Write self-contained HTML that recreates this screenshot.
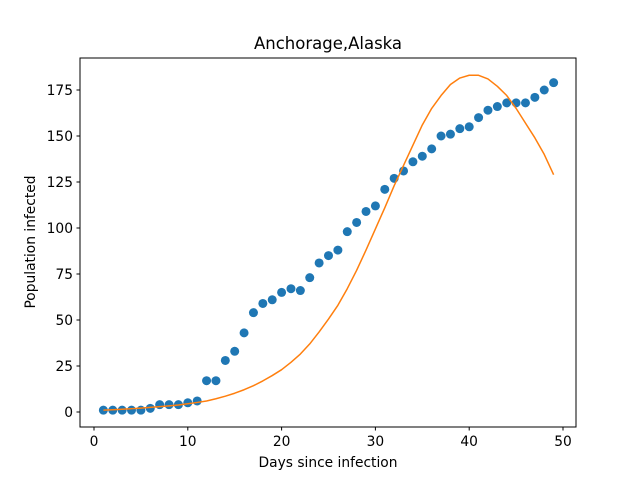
<!DOCTYPE html>
<html><head><meta charset="utf-8"><style>
body{margin:0;background:#fff;font-family:"Liberation Sans","DejaVu Sans",sans-serif}
svg text{font-family:"DejaVu Sans","Liberation Sans",sans-serif}
</style></head><body>
<svg id="chart" width="640" height="480">
<rect x="0" y="0" width="640" height="480" fill="#fff"/>
<g id="plot"></g>
<rect x="80" y="58" width="496" height="369" fill="none" stroke="#000" stroke-width="1"/>
<text x="328" y="49" text-anchor="middle" font-size="16.5">Anchorage,Alaska</text>
<text x="328" y="467" text-anchor="middle" font-size="13.8">Days since infection</text>
<text transform="translate(35,242) rotate(-90)" text-anchor="middle" font-size="13.8">Population infected</text>
</svg>
<script>
const days=[1,2,3,4,5,6,7,8,9,10,11,12,13,14,15,16,17,18,19,20,21,22,23,24,25,26,27,28,29,30,31,32,33,34,35,36,37,38,39,40,41,42,43,44,45,46,47,48,49];
const infected=[1,1,1,1,1,2,4,4,4,5,6,17,17,28,33,43,54,59,61,65,67,66,73,81,85,88,98,103,109,112,121,127,131,136,139,143,150,151,154,155,160,164,166,168,168,168,171,175,179];
const fitted=[1,1.2,1.5,1.8,2.1,2.5,2.9,3.3,3.8,4.5,5.2,6,7.2,8.6,10.2,12.1,14.3,16.9,19.8,23,27,31.5,37,43.5,50.5,58,67,77,88,99.5,111,123,134,145,156,165,172,178,181.5,183,183,181,177,172,165,157,149,140,129];
const xTicks=[0,10,20,30,40,50];
const yTicks=[0,25,50,75,100,125,150,175];
const NS="http://www.w3.org/2000/svg";
const X=v=>94+v*9.38, Y=v=>412-v*1.84;
const g=document.getElementById('plot');
function mk(t,a){const e=document.createElementNS(NS,t);for(const k in a)e.setAttribute(k,a[k]);g.appendChild(e);return e;}
xTicks.forEach(t=>{
 const l=mk('line',{x1:X(t),x2:X(t),y1:427,y2:430.5,stroke:'#000'});
 
 
 const tx=mk('text',{x:X(t),y:446,'text-anchor':'middle','font-size':13.8});tx.textContent=t;
 
 
});
yTicks.forEach(t=>{
 const l=mk('line',{x1:76.5,x2:80,y1:Y(t),y2:Y(t),stroke:'#000'});
 
 
 const tx=mk('text',{x:73,y:Y(t)+5,'text-anchor':'end','font-size':13.8});tx.textContent=t;
 
 
});
days.forEach((d,i)=>{
 const c=mk('circle',{cx:X(d),cy:Y(infected[i]),r:4.5,fill:'#1f77b4'});
 
 
});
const p=mk('polyline',{points:days.map((d,i)=>X(d)+','+Y(fitted[i])).join(' '),fill:'none',stroke:'#ff7f0e','stroke-width':1.5,'stroke-linejoin':'round'});


</script>
</body></html>
